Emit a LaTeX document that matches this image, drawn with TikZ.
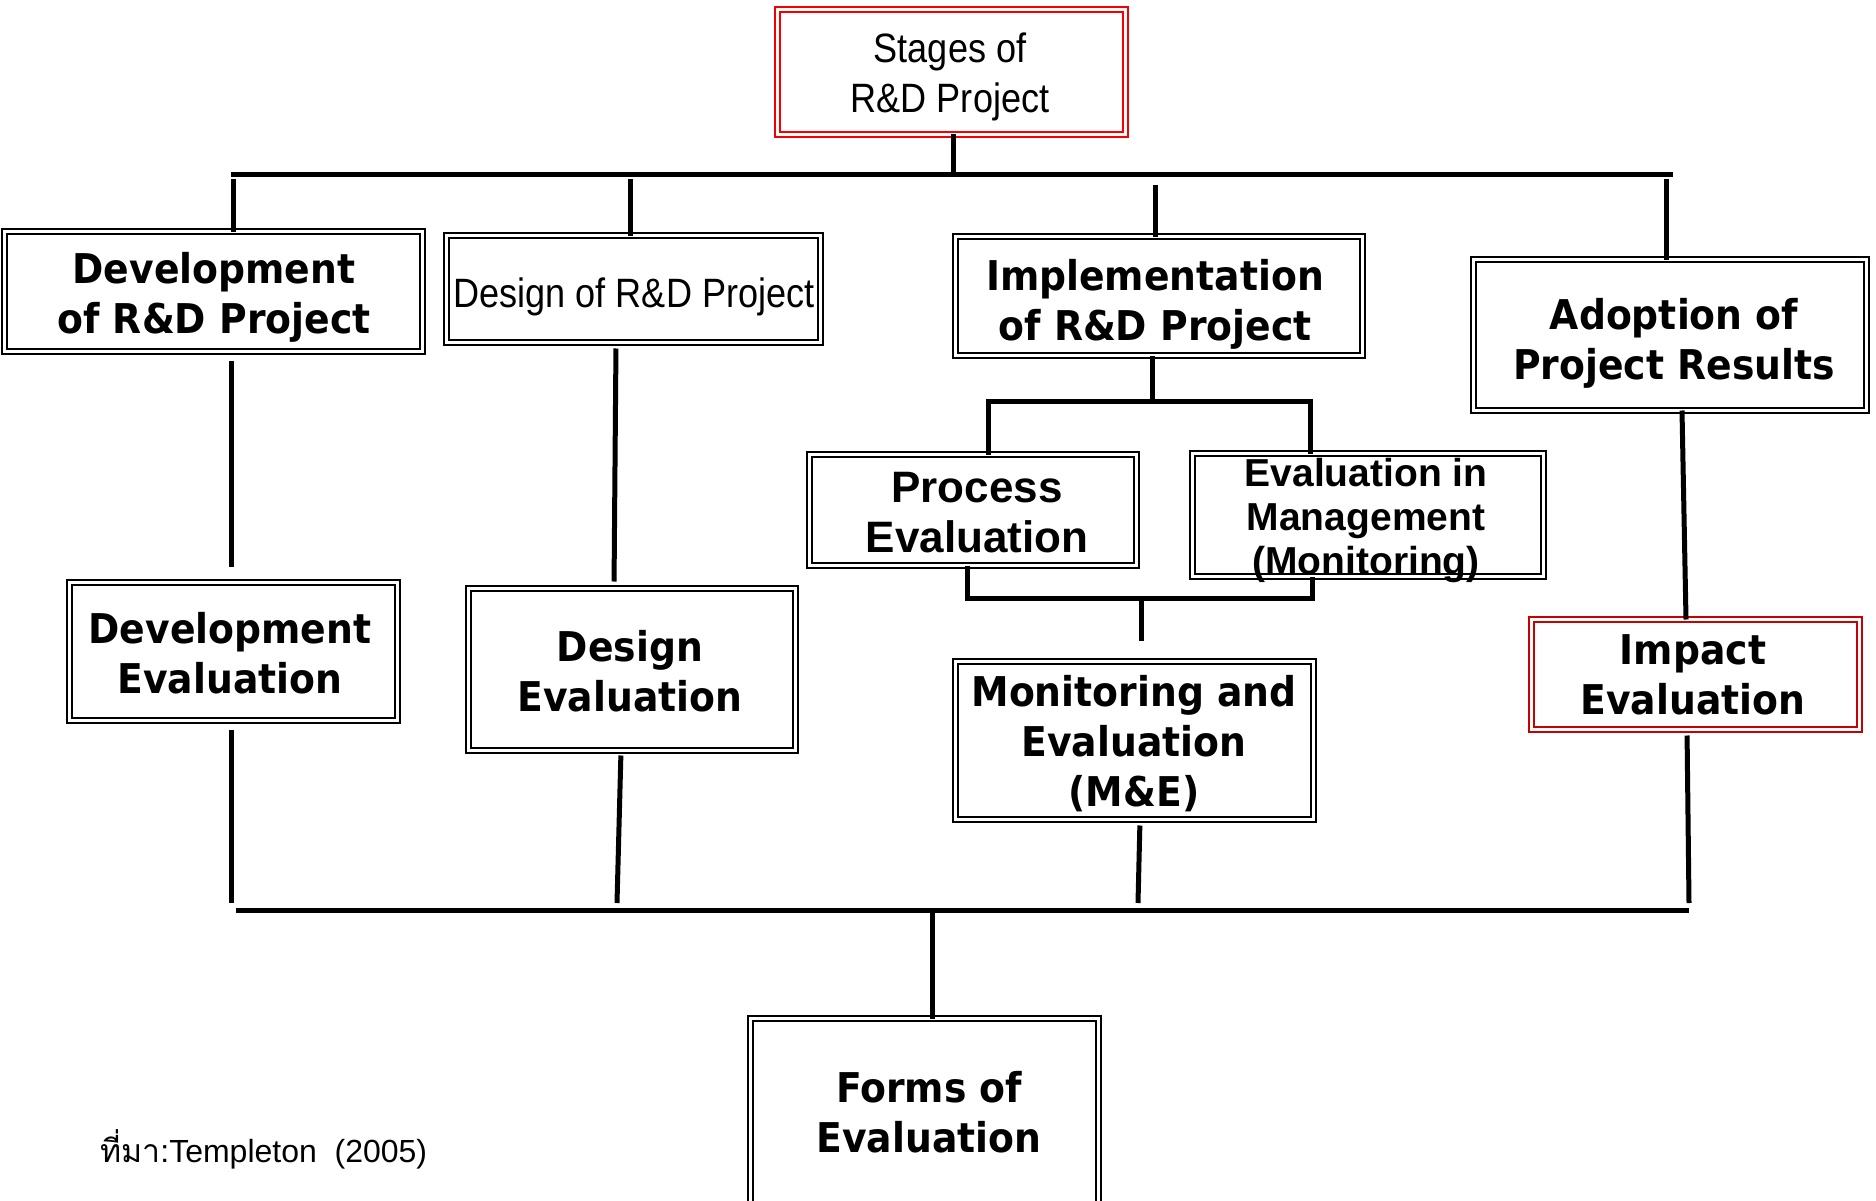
\documentclass[tikz,border=0pt]{standalone}
\usepackage{fontspec}
\setmainfont{Liberation Sans}
\newfontfamily\bx{DejaVu Sans}[FakeStretch=0.92]
\newfontfamily\cond{Liberation Sans}[FakeStretch=0.88]
\newfontfamily\ar{Liberation Sans}
\newfontfamily\thai[Script=Thai]{Loma}
\definecolor{stagered}{RGB}{245,0,0}
\definecolor{impactred}{RGB}{200,0,0}

\tikzset{
  box/.style={rectangle, draw=black, line width=2pt, double=white,
    double distance=3pt, fill=white, inner sep=0pt, outer sep=0pt},
  conn/.style={line width=5pt, black},
  boldtxt/.style={font=\bx\bfseries\fontsize{41}{50}\selectfont,
    align=center, inner sep=0pt},
  condtxt/.style={font=\cond\fontsize{41}{50}\selectfont,
    align=center, inner sep=0pt},
  artxt/.style={font=\ar\bfseries\fontsize{44}{50}\selectfont,
    align=center, inner sep=0pt},
  smalltxt/.style={font=\ar\bfseries\fontsize{39}{44}\selectfont,
    align=center, inner sep=0pt},
}

\begin{document}
\begin{tikzpicture}[x=1pt, y=-1pt]
\useasboundingbox (0,0) rectangle (1876,1201);
\clip (0,0) rectangle (1876,1201);
\fill[white] (0,0) rectangle (1876,1201);

% ---- bus coordinates ----
\coordinate (tbL) at (231,175);
\coordinate (tbR) at (1673,175);
\coordinate (t0) at (953,175);
\coordinate (t1) at (233,175);
\coordinate (t2) at (630,175);
\coordinate (t3) at (1155,175);
\coordinate (t4) at (1666,175);
\coordinate (b2L) at (988,401);
\coordinate (b2R) at (1310,401);
\coordinate (b2M) at (1152,401);
\coordinate (b3L) at (967,598);
\coordinate (b3R) at (1312,598);
\coordinate (b3M) at (1141,598);
\coordinate (bbL) at (236,910);
\coordinate (bbR) at (1689,910);
\coordinate (v1) at (231,903);
\coordinate (v2) at (617,903);
\coordinate (v3) at (1138,903);
\coordinate (v4) at (1689,903);
\coordinate (fb) at (932,910);

% ---- boxes ----
\node[box, draw=stagered, minimum width=348, minimum height=125] (stg) at (951.5,72) {};
\node[box, minimum width=418, minimum height=120] (devp) at (213.5,291.5) {};
\node[box, minimum width=374, minimum height=107] (desp) at (633.5,289) {};
\node[box, minimum width=407, minimum height=119] (impl) at (1159,296) {};
\node[box, minimum width=393, minimum height=151] (adopt) at (1670,335) {};
\node[box, minimum width=327, minimum height=111] (proc) at (973,510) {};
\node[box, minimum width=351, minimum height=123] (evm) at (1368,515) {};
\node[box, minimum width=358, minimum height=158] (me) at (1134.5,740.5) {};
\node[box, minimum width=328, minimum height=138] (deve) at (233.5,651.5) {};
\node[box, minimum width=327, minimum height=162] (dese) at (632,669.5) {};
\node[box, draw=impactred, minimum width=328, minimum height=110] (impe) at (1695.5,674.5) {};
\node[box, minimum width=348, minimum height=193] (forms) at (924.5,1115) {};

% ---- connectors ----
\draw[conn] (tbL) -- (tbR);
\draw[conn] (stg.south -| t0) -- (t0);
\draw[conn, shorten <=4pt] (t1) -- (t1 |- devp.north);
\draw[conn, shorten <=4pt] (t2) -- (t2 |- desp.north);
\draw[conn, shorten <=10pt] (t3) -- (t3 |- impl.north);
\draw[conn, shorten <=4pt] (t4) -- (t4 |- adopt.north);

\draw[conn] (impl.south -| b2M) -- (b2M);
\draw[conn] (proc.north -| b2L) -- (b2L) -- (b2R) -- (evm.north -| b2R);
\draw[conn] (proc.south -| b3L) -- (b3L) -- (b3R) -- (evm.south -| b3R);
\draw[conn, shorten >=21pt] (b3M) -- (b3M |- me.north);

\draw[conn, shorten <=9pt, shorten >=16pt] (231,0 |- devp.south) -- (231,0 |- deve.north);
\draw[conn, shorten <=6pt, shorten >=7pt] (616,0 |- desp.south) -- (614,0 |- dese.north);
\draw[conn] (1682,0 |- adopt.south) -- (1686,0 |- impe.north);

\draw[conn, shorten <=9pt] (231,0 |- deve.south) -- (v1);
\draw[conn, shorten <=5pt] (621,0 |- dese.south) -- (v2);
\draw[conn, shorten <=6pt] (1140,0 |- me.south) -- (v3);
\draw[conn, shorten <=6pt] (1687,0 |- impe.south) -- (v4);
\draw[conn] (bbL) -- (bbR);
\draw[conn] (fb) -- (fb |- forms.north);

% ---- texts ----
\node[condtxt] (tstg) at (950,77) {Stages of\\R\&D Project};
\node[boldtxt] (tdevp) at (214,297) {Development\\of R\&D Project};
\node[condtxt, anchor=base] (tdesp) at (634,307) {Design of R\&D Project};
\node[boldtxt] (timpl) at (1155,304) {Implementation\\of R\&D Project};
\node[boldtxt] (tadopt) at (1674,343) {Adoption of\\Project Results};
\node[artxt] (tproc) at (977,513) {Process\\Evaluation};
\node[smalltxt] (tevm) at (1366,520) {Evaluation in\\Management\\(Monitoring)};
\node[boldtxt] (tme) at (1134,744) {Monitoring and\\Evaluation\\(M\&E)};
\node[boldtxt] (tdeve) at (230,653.5) {Development\\Evaluation};
\node[boldtxt] (tdese) at (630,671.5) {Design\\Evaluation};
\node[boldtxt] (timpe) at (1693,675) {Impact\\Evaluation};
\node[boldtxt] (tforms) at (929,1112) {Forms of\\Evaluation};

\node[anchor=base west, inner sep=0pt, font=\ar\fontsize{32}{38}\selectfont]
  (src) at (100,1162) {{\thai ที่มา}:Templeton~~(2005)};
\end{tikzpicture}
\end{document}
